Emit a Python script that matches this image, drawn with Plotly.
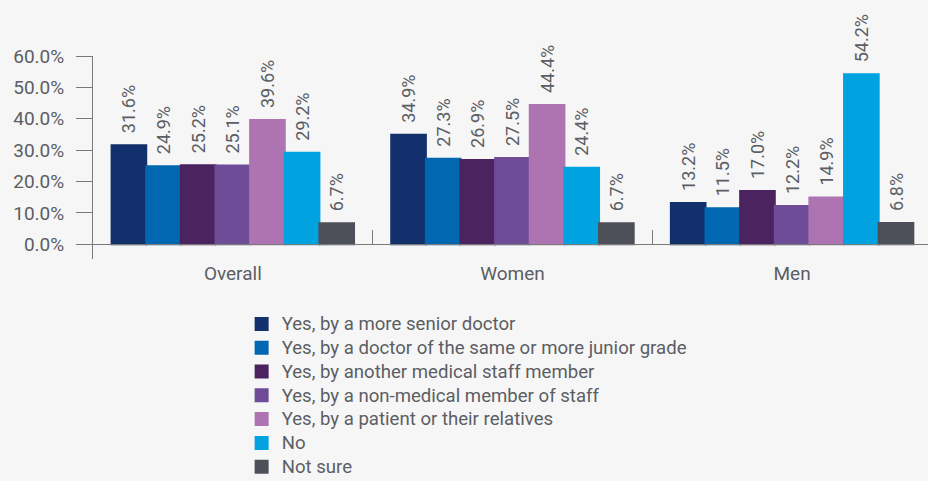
import plotly.graph_objects as go

categories = ["Overall", "Women", "Men"]
series_names = [
    "Yes, by a more senior doctor",
    "Yes, by a doctor of the same or more junior grade",
    "Yes, by another medical staff member",
    "Yes, by a non-medical member of staff",
    "Yes, by a patient or their relatives",
    "No",
    "Not sure",
]
senior_doctor = [0.316, 0.349, 0.132]
same_or_junior = [0.249, 0.273, 0.115]
other_medical = [0.252, 0.269, 0.170]
non_medical = [0.251, 0.275, 0.122]
patient = [0.396, 0.444, 0.149]
no = [0.292, 0.244, 0.542]
not_sure = [0.067, 0.067, 0.068]
series_values = [senior_doctor, same_or_junior, other_medical, non_medical, patient, no, not_sure]
colors = ["#12306b", "#0067b0", "#4a235f", "#6e4c98", "#ad74b1", "#00a3e0", "#4d5058"]
y_ticks = [0, 0.1, 0.2, 0.3, 0.4, 0.5, 0.6]
y_tick_labels = ["0.0%", "10.0%", "20.0%", "30.0%", "40.0%", "50.0%", "60.0%"]

FONT = "Roboto"
GRAY = "#5b5e64"
AXIS = "#7a7a7a"

fig = go.Figure()
for name, vals, col in zip(series_names, series_values, colors):
    fig.add_trace(go.Bar(
        name='<span style="font-size:18.6px">' + name + '</span>',
        x=categories, y=vals,
        marker=dict(color=col, line=dict(color=col, width=2)),
        text=["\u00a0\u00a0" + f"{v*100:.1f}%" for v in vals],
        textposition="outside", textangle=-90, constraintext="none",
        textfont=dict(family=FONT, size=18, color=GRAY),
        cliponaxis=False, hoverinfo="skip",
    ))

ylo = -0.0468
fig.update_layout(
    width=928, height=481,
    margin=dict(l=93, r=0, t=56, b=222),
    paper_bgcolor="#f6f6f6", plot_bgcolor="#f6f6f6",
    barmode="group", bargap=0.133, bargroupgap=0,
    font=dict(family=FONT, color=GRAY),
    showlegend=True,
    legend=dict(
        x=0.178, xanchor="left", xref="paper",
        y=1 - 307 / 481, yanchor="top", yref="container",
        font=dict(family=FONT, size=16.0, color=GRAY),
        bgcolor="rgba(0,0,0,0)", tracegroupgap=0,
        itemclick=False, itemdoubleclick=False,
    ),
    xaxis=dict(
        range=[-0.5, 2.486], showgrid=False, zeroline=False,
        showline=True, linecolor=AXIS, linewidth=1,
        anchor="free", position=-ylo / (0.6 - ylo),
        ticks="inside", tickson="boundaries", ticklen=14, tickcolor=AXIS,
        tickfont=dict(family=FONT, size=19, color=GRAY),
        ticklabelstandoff=12, automargin=False,
    ),
    yaxis=dict(
        range=[ylo, 0.6], showgrid=False, zeroline=False,
        showline=True, linecolor=AXIS, linewidth=1,
        tickvals=y_ticks, ticktext=y_tick_labels,
        ticks="outside", ticklen=16, tickcolor=AXIS,
        tickfont=dict(family=FONT, size=19, color=GRAY),
        ticklabelstandoff=8, automargin=False,
    ),
)
fig.write_html("out.html", config={"displayModeBar": False},
               post_script="document.body.style.margin='0';")
